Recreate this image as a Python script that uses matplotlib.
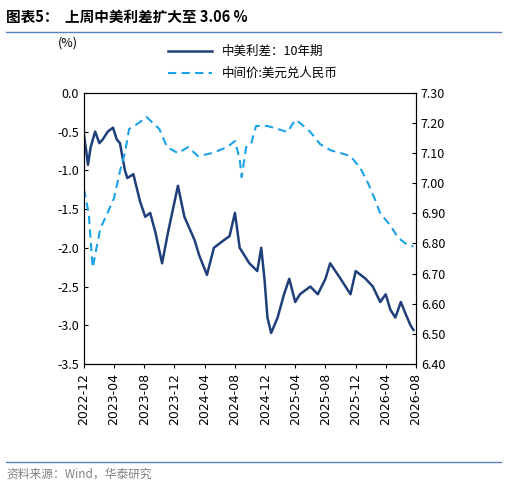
import matplotlib
matplotlib.use("Agg")
import matplotlib.pyplot as plt
import matplotlib.dates as mdates
import pandas as pd

plt.rcParams['font.family'] = ['Noto Sans CJK SC', 'DejaVu Sans']

spread_dates = ["2022-12-01","2022-12-10","2022-12-17","2022-12-28","2023-01-15","2023-02-01","2023-02-15","2023-03-07",
    "2023-03-28","2023-04-12","2023-04-25","2023-05-15","2023-05-25","2023-06-18","2023-07-15","2023-08-05",
    "2023-08-25","2023-09-15","2023-10-12","2023-11-05","2023-12-15","2024-01-10","2024-02-20","2024-03-10",
    "2024-04-10","2024-05-08","2024-06-18","2024-07-10","2024-08-01","2024-08-20","2024-09-28","2024-10-30",
    "2024-11-15","2024-11-28","2024-12-10","2024-12-25","2025-01-20","2025-02-15","2025-03-08","2025-04-01",
    "2025-04-20","2025-06-01","2025-07-01","2025-08-01","2025-08-20","2025-10-01","2025-11-10","2025-12-01",
    "2026-01-10","2026-02-08","2026-03-10","2026-04-01","2026-04-20","2026-05-10","2026-06-01","2026-06-20",
    "2026-07-10","2026-07-22"]
spread = [-0.55,-0.75,-0.93,-0.7,-0.5,-0.65,-0.6,-0.5,
    -0.45,-0.6,-0.65,-1.0,-1.1,-1.05,-1.4,-1.6,
    -1.55,-1.8,-2.2,-1.8,-1.2,-1.6,-1.9,-2.1,
    -2.35,-2.0,-1.9,-1.85,-1.55,-2.0,-2.2,-2.3,
    -2.0,-2.4,-2.9,-3.1,-2.9,-2.6,-2.4,-2.7,
    -2.6,-2.5,-2.6,-2.4,-2.2,-2.4,-2.6,-2.3,
    -2.4,-2.5,-2.7,-2.6,-2.8,-2.9,-2.7,-2.85,
    -3.0,-3.06]

fx_dates = ["2022-12-01","2022-12-20","2023-01-05","2023-02-05","2023-03-05","2023-04-01","2023-04-28","2023-05-15",
    "2023-06-01","2023-07-10","2023-08-10","2023-09-05","2023-10-01","2023-11-01","2023-12-15","2024-01-25",
    "2024-03-05","2024-05-01","2024-07-01","2024-08-01","2024-08-20","2024-08-28","2024-09-15","2024-10-05",
    "2024-10-25","2024-12-10","2025-01-20","2025-03-01","2025-04-01","2025-04-20","2025-06-01","2025-07-10",
    "2025-08-20","2025-10-01","2025-11-10","2025-12-20","2026-01-20","2026-02-15","2026-03-10","2026-04-20",
    "2026-05-20","2026-06-20","2026-07-22"]
fx = [6.98,6.90,6.72,6.85,6.90,6.95,7.05,7.10,
    7.18,7.20,7.22,7.20,7.18,7.12,7.10,7.12,
    7.09,7.10,7.12,7.14,7.08,7.02,7.12,7.13,
    7.19,7.19,7.18,7.17,7.21,7.20,7.17,7.13,
    7.11,7.10,7.09,7.05,7.00,6.95,6.90,6.86,
    6.82,6.80,6.79]

xticks = ["2022-12","2023-04","2023-08","2023-12","2024-04","2024-08","2024-12",
          "2025-04","2025-08","2025-12","2026-04","2026-08"]

fig = plt.figure(figsize=(5.06, 4.86), dpi=100)
ax = fig.add_axes([0.166, 0.251, 0.656, 0.558])
ax2 = ax.twinx()

l1, = ax.plot(pd.to_datetime(spread_dates), spread, color='#1f3f7a', lw=1.8, label='中美利差：10年期')
l2, = ax2.plot(pd.to_datetime(fx_dates), fx, color='#1aa3e8', lw=1.5, ls=(0, (4, 2.5)), label='中间价:美元兑人民币')

xt = pd.to_datetime([t + "-01" for t in xticks])
ax.set_xticks(xt)
ax.set_xticklabels(xticks, rotation=90, fontsize=9, family=['DejaVu Sans'])
ax.set_xlim(xt[0], xt[-1])
ax.set_ylim(-3.5, 0)
ax.set_yticks([0, -0.5, -1, -1.5, -2, -2.5, -3, -3.5])
ax.set_yticklabels(['0.0','-0.5','-1.0','-1.5','-2.0','-2.5','-3.0','-3.5'], fontsize=9)
ax2.set_ylim(6.40, 7.30)
ax2.set_yticks([6.4+0.1*i for i in range(10)])
ax2.set_yticklabels([f"{6.4+0.1*i:.2f}" for i in range(10)], fontsize=9)
for a in (ax, ax2):
    for s in a.spines.values():
        s.set_linewidth(0.8)
ax.spines['top'].set_visible(True)
ax.tick_params(axis='x', length=3, direction='out')
ax.tick_params(axis='y', length=3, direction='in')
ax2.tick_params(axis='y', length=3, direction='in')

fig.legend(handles=[l1, l2], loc='upper left', bbox_to_anchor=(0.31, 0.93), frameon=False,
           fontsize=9, handlelength=3.5, labelspacing=0.7)
fig.text(0.115, 0.905, '(%)', fontsize=9)

fig.text(0.012, 0.965, '图表5：  上周中美利差扩大至 3.06 %', fontsize=10.5, fontweight='bold', va='center')
fig.add_artist(plt.Line2D([0.012, 0.99], [0.935, 0.935], color='#5b84b8', lw=1))
fig.add_artist(plt.Line2D([0.012, 0.99], [0.05, 0.05], color='#5b84b8', lw=1))
fig.text(0.012, 0.025, '资料来源：Wind，华泰研究', fontsize=8.5, color='#808080', va='center')

fig.savefig('out.png', dpi=100)
